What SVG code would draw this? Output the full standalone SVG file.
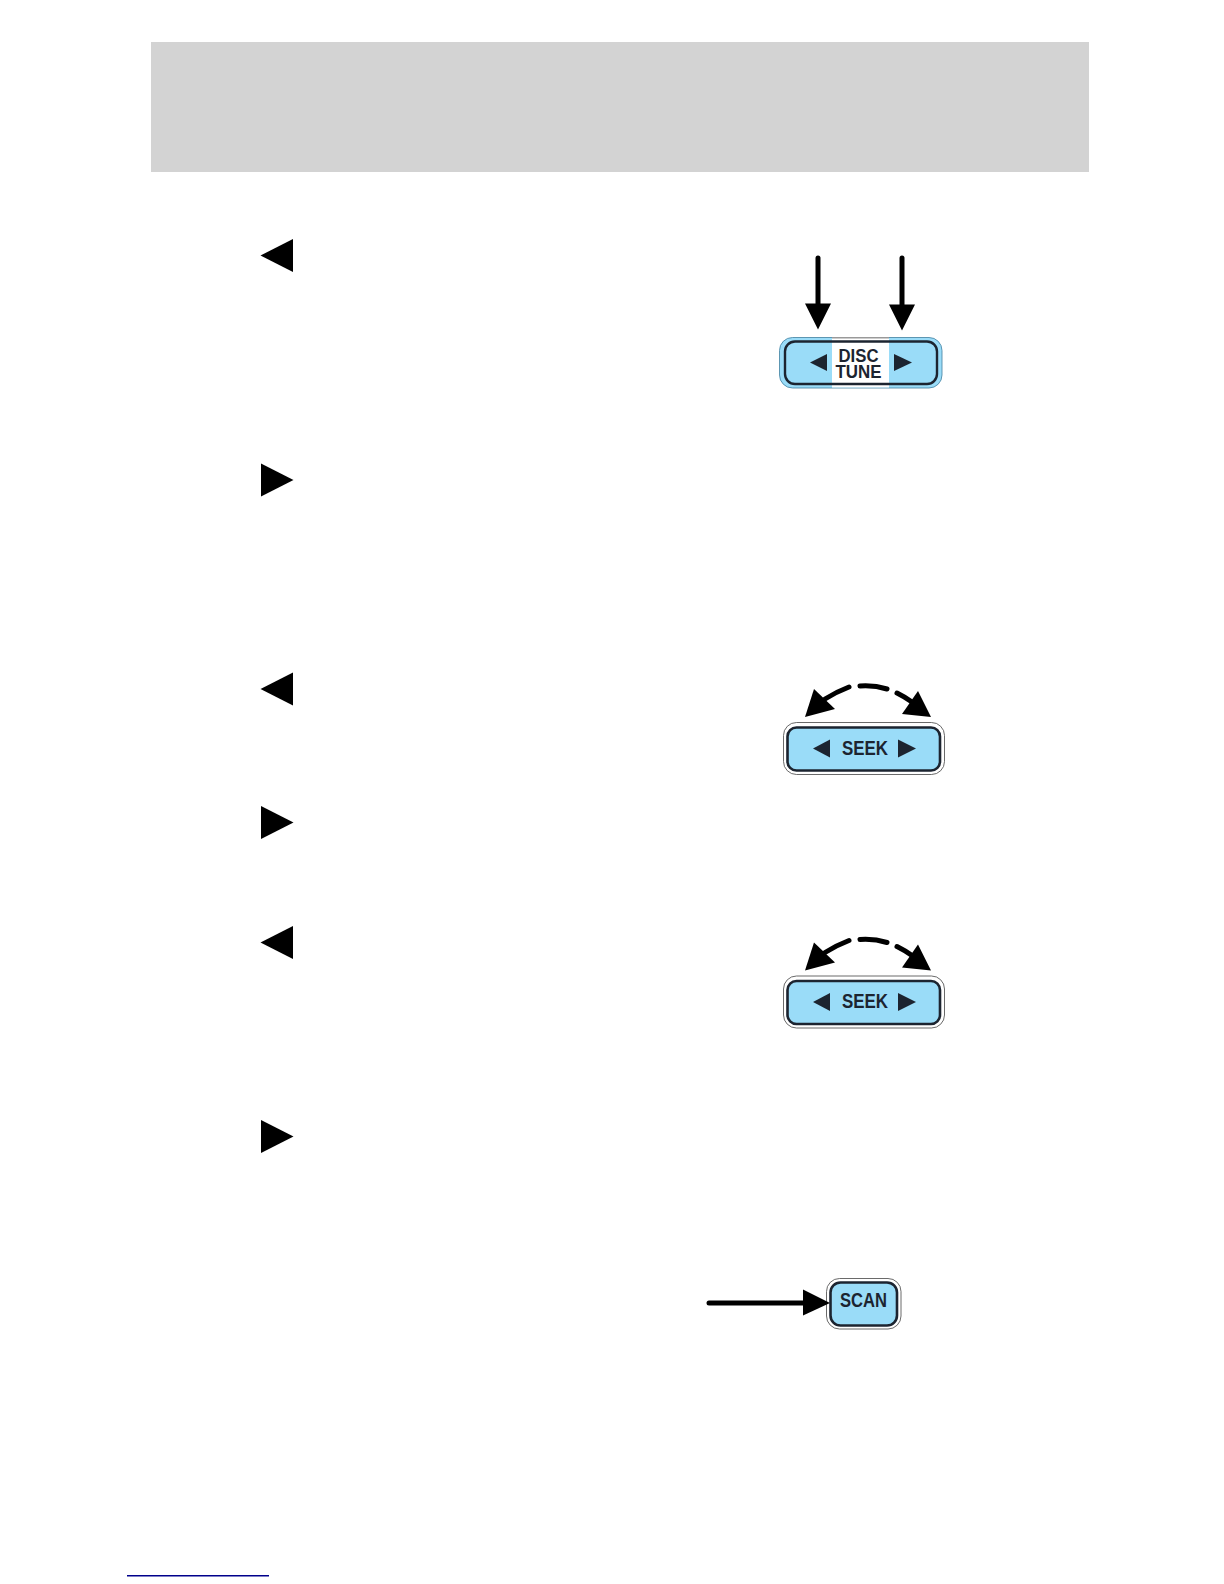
<svg xmlns="http://www.w3.org/2000/svg" width="1224" height="1584" viewBox="0 0 1224 1584">
<style>
.lbl{font-family:"Liberation Sans",Arial,sans-serif;font-weight:700;fill:#1c2430;text-anchor:middle}
.shell{fill:#fff;stroke:#444;stroke-width:.8}
.face{fill:#9adcf8;stroke:#1c2430;stroke-width:2.6}
.glyph{fill:#1c2430}
.tri{fill:#000}
.shaft{fill:none;stroke:#000;stroke-width:5;stroke-linecap:round}
</style>
<defs>
<g id="seekBtn">
<rect class="shell" x="783.500" y="722.500" width="161" height="52" rx="13"/>
<rect class="face" x="787.500" y="727.500" width="152.500" height="43" rx="9"/>
<polygon class="glyph" points="813,748.500 830,739.500 830,757.500"/>
<polygon class="glyph" points="916,748.500 898,739.500 898,757.500"/>
<text class="lbl" x="865" y="754.500" font-size="20" textLength="46" lengthAdjust="spacingAndGlyphs">SEEK</text>
<path class="shaft" d="M825 699Q836 692 849 687"/>
<path class="shaft" d="M860 686Q874 685 887 689"/>
<path class="shaft" d="M897 693Q905 697 912 702"/>
<polygon class="tri" points="805,717 814,689 835,709"/>
<polygon class="tri" points="931,717 918,691 902,714"/>
</g>
</defs>
<rect id="header-band" x="151" y="42" width="938" height="130" fill="#d3d3d3"/>
<g id="bullets">
<polygon class="tri" points="260.500,255.500 293,239 293,272"/>
<polygon class="tri" points="293.500,480 261,463.500 261,496.500"/>
<polygon class="tri" points="260.500,689 293,672.500 293,705.500"/>
<polygon class="tri" points="293.500,822.500 261,806 261,839"/>
<polygon class="tri" points="260.500,942.500 293,926 293,959"/>
<polygon class="tri" points="293.500,1136.500 261,1120 261,1153"/>
</g>
<g id="disc-tune">
<rect x="779.500" y="337.500" width="162.500" height="50.500" rx="13" fill="#9adcf8" stroke="#3f7f9f" stroke-width=".8"/>
<rect x="832" y="338" width="57" height="49.500" fill="#fff"/>
<rect x="832" y="337" width="57" height="1.500" fill="#999"/>
<rect x="785" y="341.500" width="152" height="42.500" rx="10" fill="none" stroke="#1c2430" stroke-width="2.400"/>
<polygon class="glyph" points="810,362.500 827,354 827,371"/>
<polygon class="glyph" points="912,362.500 894,354 894,371"/>
<text class="lbl" x="858.500" y="362" font-size="19" textLength="40" lengthAdjust="spacingAndGlyphs">DISC</text>
<text class="lbl" x="858.500" y="378" font-size="19" textLength="46" lengthAdjust="spacingAndGlyphs">TUNE</text>
</g>
<g id="seek-1"><use href="#seekBtn"/></g>
<g id="seek-2"><use href="#seekBtn" y="253.500"/></g>
<g id="scan">
<rect class="shell" x="826.500" y="1278.500" width="74.500" height="50.500" rx="13"/>
<rect class="face" x="830.500" y="1282.500" width="66.500" height="43" rx="10"/>
<text class="lbl" x="863.500" y="1307" font-size="20" textLength="47" lengthAdjust="spacingAndGlyphs">SCAN</text>
</g>
<g id="connectors">
<path class="shaft" d="M818 258V306"/>
<polygon class="tri" points="818,329.500 805,303.500 831,303.500"/>
<path class="shaft" d="M902 258V306"/>
<polygon class="tri" points="902,330.500 889,304.500 915,304.500"/>
<path class="shaft" d="M709 1303H805"/>
<polygon class="tri" points="830,1303 803,1289.500 803,1315.500"/>
</g>
<rect id="footer-rule" x="127" y="1575" width="142" height="1.500" fill="#00008b"/>
</svg>
